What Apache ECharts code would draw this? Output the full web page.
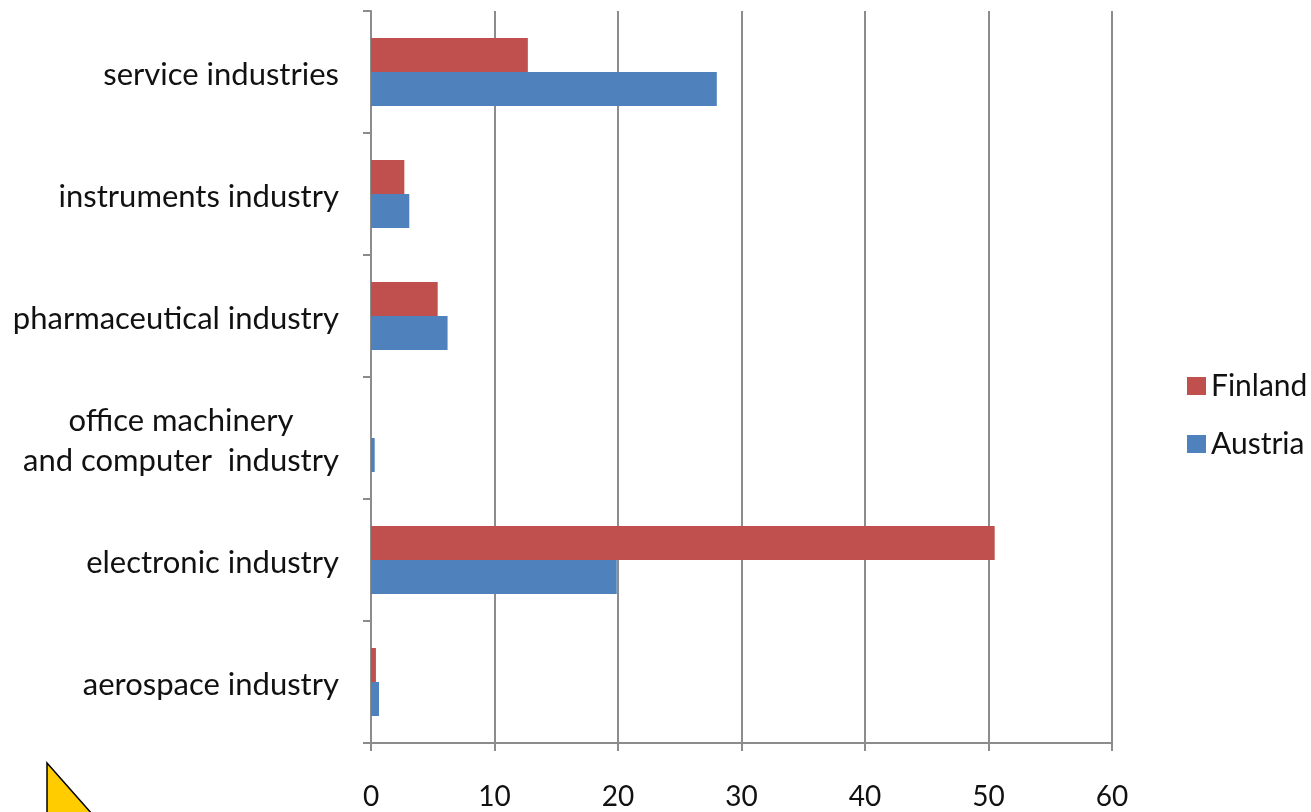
<!DOCTYPE html>
<html>
<head>
<meta charset="utf-8">
<script src="https://cdn.jsdelivr.net/npm/echarts@6/dist/echarts.min.js"></script>
<style>
  html, body { margin: 0; padding: 0; background: #fff; }
  #chart { width: 1311px; height: 812px; }
</style>
</head>
<body>
<div id="chart"></div>
<script>
// Industry categories, listed bottom to top
const categories = [
  'aerospace industry',
  'electronic industry',
  'office machinery\nand computer  industry',
  'pharmaceutical industry',
  'instruments industry',
  'service industries'
];
const finland = [0.4, 50.5, 0, 5.4, 2.7, 12.7];
const austria = [0.65, 19.9, 0.3, 6.2, 3.1, 28.0];
const xTicks = [0, 10, 20, 30, 40, 50, 60];

const FONT = 'Lato, "Open Sans", sans-serif';
const AXIS_GREY = '#8c8c8c';
const TEXT = '#111';

const chart = echarts.init(document.getElementById('chart'));

chart.setOption({
  animation: false,
  backgroundColor: '#fff',
  textStyle: { fontFamily: FONT },
  grid: { left: 371, right: 199, top: 11, bottom: 69, containLabel: false },
  legend: {
    orient: 'vertical',
    left: 1182,
    top: 365,
    itemWidth: 19,
    itemHeight: 18,
    itemGap: 26,
    data: ['Finland', 'Austria'],
    icon: 'rect',
    textStyle: { fontFamily: FONT, fontSize: 30, color: TEXT, lineHeight: 32 }
  },
  xAxis: {
    type: 'value',
    min: xTicks[0],
    max: xTicks[xTicks.length - 1],
    interval: 10,
    axisLine: { show: true, lineStyle: { color: AXIS_GREY, width: 2 } },
    axisTick: { show: true, length: 8, lineStyle: { color: AXIS_GREY, width: 2 } },
    splitLine: { show: true, lineStyle: { color: AXIS_GREY, width: 2 } },
    axisLabel: { margin: 40, fontFamily: FONT, fontSize: 28, color: TEXT }
  },
  yAxis: {
    type: 'category',
    data: categories,
    axisLine: { show: true, lineStyle: { color: AXIS_GREY, width: 2 } },
    axisTick: { show: true, length: 8, lineStyle: { color: AXIS_GREY, width: 2 } },
    splitLine: { show: false },
    axisLabel: {
      margin: 32,
      fontFamily: FONT,
      fontSize: 31,
      color: TEXT,
      lineHeight: 40,
      padding: [6, 0, 0, 0],
      formatter: function (v) {
        if (v.indexOf('\n') >= 0) {
          return v.split('\n').map(function (s) { return '{c|' + s + '}'; }).join('\n');
        }
        return v;
      },
      rich: {
        c: { align: 'center', fontFamily: FONT, fontSize: 31, color: TEXT, lineHeight: 40 }
      }
    }
  },
  series: [
    {
      name: 'Finland',
      type: 'bar',
      data: finland,
      barWidth: 34,
      barGap: '0%',
      itemStyle: { color: '#C0504D' }
    },
    {
      name: 'Austria',
      type: 'bar',
      data: austria,
      barWidth: 34,
      barGap: '0%',
      itemStyle: { color: '#4F81BD' }
    }
  ],
  graphic: [
    {
      type: 'polygon',
      shape: { points: [[47, 763], [47, 840], [115, 840]] },
      style: { fill: '#FFCC00', stroke: '#000', lineWidth: 1.5 }
    }
  ]
});
</script>
</body>
</html>
